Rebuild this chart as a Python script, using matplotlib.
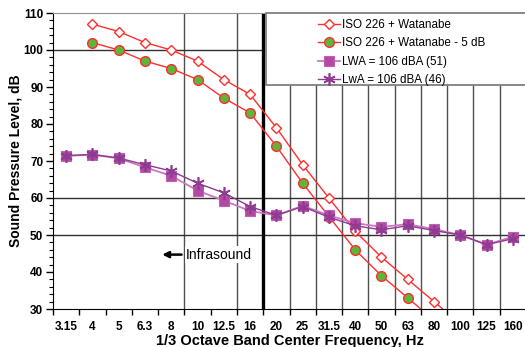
import numpy as np
import matplotlib
matplotlib.use("Agg")
import matplotlib.pyplot as plt
from matplotlib.patches import Rectangle

bands = ["3.15", "4", "5", "6.3", "8", "10", "12.5", "16", "20", "25",
         "31.5", "40", "50", "63", "80", "100", "125", "160"]
nan = np.nan
iso_watanabe = [nan, 107, 105, 102, 100, 97, 92, 88, 79, 69, 60, 51, 44, 38, 32, 26, nan, nan]
iso_watanabe_m5 = [nan, 102, 100, 97, 95, 92, 87, 83, 74, 64, 55, 46, 39, 33, 27, nan, nan, nan]
lwa_51 = [71.4, 71.7, 70.7, 68.3, 66.0, 62.0, 59.3, 56.5, 55.3, 57.9, 55.3, 53.2, 52.2, 52.9, 51.6, 50.0, 47.4, 49.5]
lwa_46 = [71.4, 71.8, 70.8, 69.0, 67.3, 64.0, 61.4, 57.7, 55.3, 57.7, 54.8, 52.5, 51.4, 52.5, 51.2, 50.0, 47.4, 49.0]
labels = ["ISO 226 + Watanabe", "ISO 226 + Watanabe - 5 dB",
          "LWA = 106 dBA (51)", "LwA = 106 dBA (46)"]

plt.rcParams['font.family'] = ['Liberation Sans', 'DejaVu Sans']

fig = plt.figure(figsize=(5.25, 3.47), dpi=100)
ax = fig.add_axes([53/525, 1-309/347, 473/525, (309-13)/347])
x = np.arange(len(bands))
n = len(bands)

ax.set_xlim(-0.5, n-0.5)
ax.set_ylim(30, 110)

# grid lines
for b in [4.5, 6.5] + list(np.arange(8.5, n-0.5, 1.0)):
    ax.axvline(b, color='#505050', lw=1.0, zorder=1)
for yv in [100, 60, 50]:
    ax.axhline(yv, color='#303030', lw=1.0, zorder=1)
ax.axvline(7.5, color='black', lw=2.4, zorder=2)

red = '#FF2E2E'
ax.plot(x, iso_watanabe, color=red, lw=1.0, marker='D', ms=5.5, mfc='white',
        mec=red, mew=1.0, label=labels[0], zorder=4)
ax.plot(x, iso_watanabe_m5, color=red, lw=1.0, marker='o', ms=7, mfc='#5DB53A',
        mec=red, mew=1.0, label=labels[1], zorder=4)
ax.plot(x, lwa_51, color='#CC77C2', lw=1.3, marker='s', ms=7, mfc='#B14AA2',
        mec='#C25FB5', mew=0.8, label=labels[2], zorder=5)
ax.plot(x, lwa_46, color='#8E3B91', lw=1.0, marker=(6, 2, 0), ms=9, mfc='#8E3B91',
        mec='#8E3B91', mew=1.2, label=labels[3], zorder=6)

# ticks
ax.set_xticks(np.arange(-0.5, n, 1.0))
ax.set_xticklabels([])
ax.set_xticks(x, minor=True)
ax.set_xticklabels(bands, minor=True, fontsize=8.5, fontweight='bold')
ax.tick_params(axis='x', which='major', direction='out', length=4, width=1)
ax.tick_params(axis='x', which='minor', length=0, pad=9)
ax.set_yticks(np.arange(30, 111, 10))
ax.set_yticks(np.arange(30, 111, 2), minor=True)
ax.tick_params(axis='y', which='major', direction='out', length=5, width=1, pad=2)
ax.tick_params(axis='y', which='minor', direction='out', length=3, width=0.8)
for lab in ax.get_yticklabels():
    lab.set_fontweight('bold')
    lab.set_fontsize(8.5)

ax.spines['right'].set_visible(False)
ax.spines['top'].set_color('#909090')

ax.set_ylabel("Sound Pressure Level, dB", fontsize=10, fontweight='bold', labelpad=1)
ax.set_xlabel("1/3 Octave Band Center Frequency, Hz", fontsize=10.5, fontweight='bold', labelpad=0)

# infrasound annotation
ax.text(4.56, 44.7, "Infrasound", fontsize=10, va='center', ha='left',
        bbox=dict(facecolor='white', edgecolor='none', pad=1), zorder=3)
ax.annotate('', xy=(3.55, 44.7), xytext=(4.5, 44.7),
            arrowprops=dict(arrowstyle='-|>', color='black', lw=1.8,
                            mutation_scale=9), zorder=3)

# legend box
rect = Rectangle((7.6, 110 - (85-13)/3.7), n, (85-13)/3.7, facecolor='white',
                 edgecolor='#808080', lw=1.3, zorder=8, clip_on=False)
ax.add_patch(rect)
leg = ax.legend(loc='upper left', bbox_to_anchor=((313-53)/473 - 0.01, 1.012),
                frameon=False, fontsize=8.4, handlelength=1.9, handletextpad=0.15,
                labelspacing=0.55, borderpad=0.3)
leg.set_zorder(9)

fig.savefig("out.png", dpi=100)
